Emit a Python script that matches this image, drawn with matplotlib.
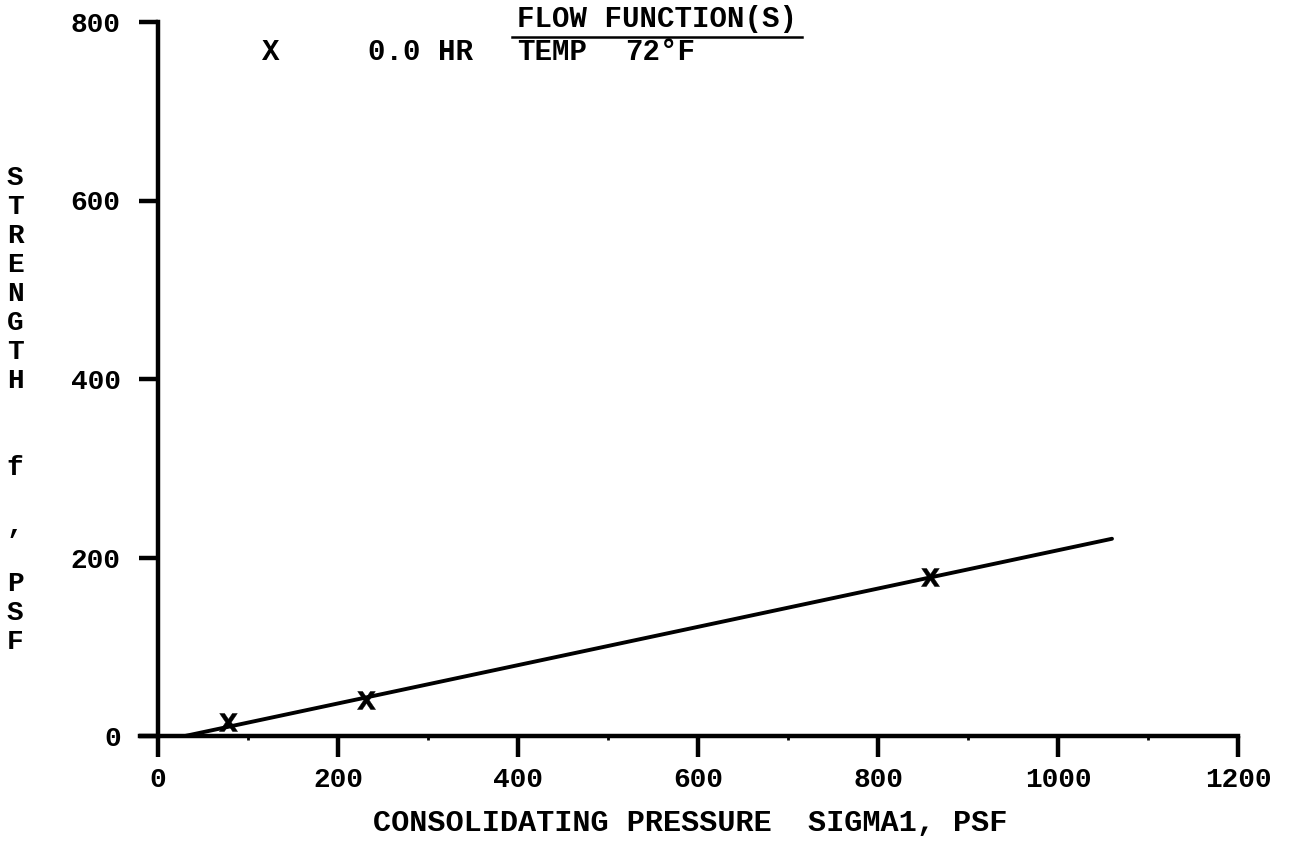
import matplotlib
matplotlib.use("Agg")
import matplotlib.pyplot as plt
import numpy as np

# measured points (consolidating pressure, strength)
sigma1 = [78, 231, 858]
strength = [16, 40, 178]

# fitted flow function line end points
fit_x = [30, 1060]
fit_y = [0, 221]

xticks = [0, 200, 400, 600, 800, 1000, 1200]
yticks = [0, 200, 400, 600, 800]
ylabel_chars = list("STRENGTH  f , PSF")
legend_parts = ["X", "0.0 HR", "TEMP", "72°F"]
legend_px = [262, 368, 517, 625]

plt.rcParams['font.family'] = ['Liberation Mono', 'DejaVu Sans Mono']
plt.rcParams['font.weight'] = 'bold'

W, H = 1301, 850
fig = plt.figure(figsize=(W / 100, H / 100), dpi=100)
ax = fig.add_axes([158 / W, (H - 736) / H, (1238 - 158) / W, (736 - 22) / H])

ax.plot(fit_x, fit_y, color='black', lw=2.8, solid_capstyle='round')
ax.scatter(sigma1, strength, marker=r'$\mathbf{X}$', s=170, color='black', zorder=3,
           linewidths=0.3)

ax.set_xlim(0, 1200)
ax.set_ylim(0, 800)
ax.set_xticks(xticks)
ax.set_yticks(yticks)
ax.set_xticks([100, 300, 500, 700, 900, 1100], minor=True)
ax.tick_params(axis='both', which='major', direction='out', width=3.2, color='black',
               labelsize=20)
ax.tick_params(axis='x', which='major', length=15, pad=7)
ax.tick_params(axis='y', which='major', length=14, pad=13)
ax.tick_params(axis='x', which='minor', length=3, width=2, pad=0)
for lbl in ax.get_xticklabels() + ax.get_yticklabels():
    lbl.set_fontweight('bold')

for s in ['top', 'right']:
    ax.spines[s].set_visible(False)
for s in ['left', 'bottom']:
    ax.spines[s].set_linewidth(3.2)
ax.spines['bottom'].set_bounds(-20, 1200)

# title and legend line
fig.text(657 / W, 1 - 19 / H, "FLOW FUNCTION(S)", ha='center', va='center',
         fontsize=21, fontweight='bold')
fig.add_artist(plt.Line2D([512 / W, 802 / W], [(H - 37) / H, (H - 37) / H],
                          color='black', lw=1.8))
for part, px in zip(legend_parts, legend_px):
    fig.text(px / W, 1 - 52 / H, part, ha='left', va='center',
             fontsize=21, fontweight='bold')

# stacked vertical y label
for i, ch in enumerate(ylabel_chars):
    fig.text(15 / W, 1 - (178 + 29 * i) / H, ch, ha='center', va='center',
             fontsize=20, fontweight='bold')

fig.text(690 / W, 1 - 823 / H, "CONSOLIDATING PRESSURE  SIGMA1, PSF", ha='center',
         va='center', fontsize=21.8, fontweight='bold')

fig.savefig("out.png", dpi=100, facecolor='white')
